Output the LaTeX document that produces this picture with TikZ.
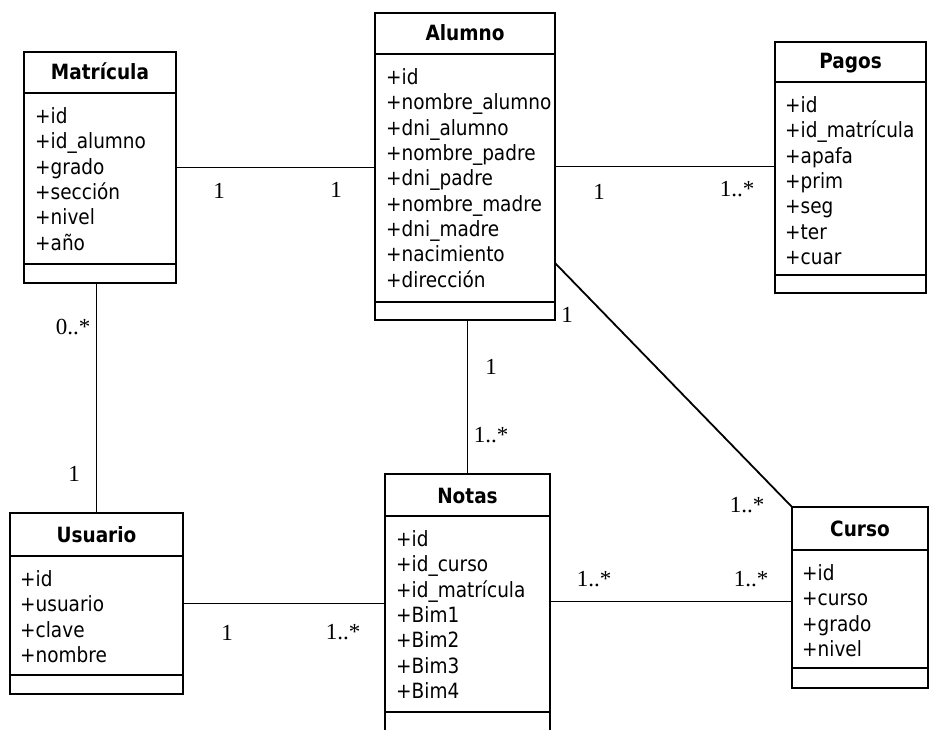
\documentclass[tikz,border=0pt]{standalone}
\usepackage{fontspec}
\setmainfont{DejaVu Sans}[FakeStretch=0.88]
\newfontfamily\multfont{Liberation Serif}
\begin{document}
\begin{tikzpicture}[x=1pt,y=-1pt,
  box/.style={draw, line width=1.8pt, inner sep=0pt, outer sep=0pt, anchor=north west},
  sep/.style={line width=1.8pt},
  ttl/.style={font=\fontsize{21}{24}\selectfont\bfseries, inner sep=0pt, anchor=base},
  attr/.style={font=\fontsize{21}{25.3}\selectfont, align=left, inner sep=0pt, anchor=north west},
  mult/.style={font=\multfont\fontsize{23}{25}\selectfont, inner sep=0pt},
  conn/.style={line width=1.8pt}]
\useasboundingbox (0,0) rectangle (934,730);
% ---------- Matricula
\node[box, minimum width=152pt, minimum height=231pt] (mat) at (24,52) {};
\draw[sep] ([yshift=-41pt]mat.north west) -- ([yshift=-41pt]mat.north east);
\draw[sep] ([yshift=-212pt]mat.north west) -- ([yshift=-212pt]mat.north east);
\node[ttl] (matT) at ([yshift=-28pt]mat.north) {Matrícula};
\node[attr] (matA) at ([xshift=11pt,yshift=-55.5pt]mat.north west) {+id\\+id\_alumno\\+grado\\+sección\\+nivel\\+año};
% ---------- Alumno
\node[box, minimum width=180pt, minimum height=307pt] (alu) at (375,13) {};
\draw[sep] ([yshift=-41pt]alu.north west) -- ([yshift=-41pt]alu.north east);
\draw[sep] ([yshift=-289pt]alu.north west) -- ([yshift=-289pt]alu.north east);
\node[ttl] (aluT) at ([yshift=-28pt]alu.north) {Alumno};
\node[attr] (aluA) at ([xshift=11pt,yshift=-55.5pt]alu.north west) {+id\\+nombre\_alumno\\+dni\_alumno\\+nombre\_padre\\+dni\_padre\\+nombre\_madre\\+dni\_madre\\+nacimiento\\+dirección};
% ---------- Pagos
\node[box, minimum width=151pt, minimum height=251pt] (pag) at (775,42) {};
\draw[sep] ([yshift=-40pt]pag.north west) -- ([yshift=-40pt]pag.north east);
\draw[sep] ([yshift=-233pt]pag.north west) -- ([yshift=-233pt]pag.north east);
\node[ttl] (pagT) at ([yshift=-27pt]pag.north) {Pagos};
\node[attr] (pagA) at ([xshift=10pt,yshift=-54.5pt]pag.north west) {+id\\+id\_matrícula\\+apafa\\+prim\\+seg\\+ter\\+cuar};
% ---------- Usuario
\node[box, minimum width=173pt, minimum height=181pt] (usu) at (10,513) {};
\draw[sep] ([yshift=-43pt]usu.north west) -- ([yshift=-43pt]usu.north east);
\draw[sep] ([yshift=-162pt]usu.north west) -- ([yshift=-162pt]usu.north east);
\node[ttl] (usuT) at ([yshift=-29pt]usu.north) {Usuario};
\node[attr] (usuA) at ([xshift=10pt,yshift=-57.5pt]usu.north west) {+id\\+usuario\\+clave\\+nombre};
% ---------- Notas
\node[box, minimum width=165pt, minimum height=286pt] (not) at (385,474) {};
\draw[sep] ([yshift=-42pt]not.north west) -- ([yshift=-42pt]not.north east);
\draw[sep] ([yshift=-238pt]not.north west) -- ([yshift=-238pt]not.north east);
\node[ttl] (notT) at ([yshift=-29pt]not.north) {Notas};
\node[attr] (notA) at ([xshift=11pt,yshift=-56.5pt]not.north west) {+id\\+id\_curso\\+id\_matrícula\\+Bim1\\+Bim2\\+Bim3\\+Bim4};
% ---------- Curso
\node[box, minimum width=136pt, minimum height=181pt] (cur) at (792,507) {};
\draw[sep] ([yshift=-43pt]cur.north west) -- ([yshift=-43pt]cur.north east);
\draw[sep] ([yshift=-161pt]cur.north west) -- ([yshift=-161pt]cur.north east);
\node[ttl] (curT) at ([yshift=-29pt]cur.north) {Curso};
\node[attr] (curA) at ([xshift=10pt,yshift=-57.5pt]cur.north west) {+id\\+curso\\+grado\\+nivel};
% ---------- connectors
\draw[conn] (mat.east) -- (mat.east -| alu.west);
\draw[conn] (alu.east) -- (alu.east -| pag.west);
\draw[conn] (usu.north) -- (usu.north |- mat.south);
\draw[conn] (not.north) -- (not.north |- alu.south);
\draw[conn] (usu.east) -- (usu.east -| not.west);
\coordinate (nc) at ([yshift=-4pt]cur.west);
\draw[conn] (nc -| not.east) -- (nc);
\coordinate (ad) at ([yshift=-250pt]alu.north east);
\draw[conn] (ad) -- (cur.north west);
% ---------- multiplicities
\node[mult] (m1) at (219,191) {1};
\node[mult] (m2) at (336,190) {1};
\node[mult] (m3) at (599,192) {1};
\node[mult] (m4) at (737,189) {1..*};
\node[mult] (m5) at (73,327) {0..*};
\node[mult] (m6) at (74,474) {1};
\node[mult] (m7) at (567,315) {1};
\node[mult] (m8) at (491,367) {1};
\node[mult] (m9) at (491,435) {1..*};
\node[mult] (m10) at (747,505) {1..*};
\node[mult] (m11) at (594,579) {1..*};
\node[mult] (m12) at (751,579) {1..*};
\node[mult] (m13) at (227,633) {1};
\node[mult] (m14) at (343,632) {1..*};
\end{tikzpicture}
\end{document}
